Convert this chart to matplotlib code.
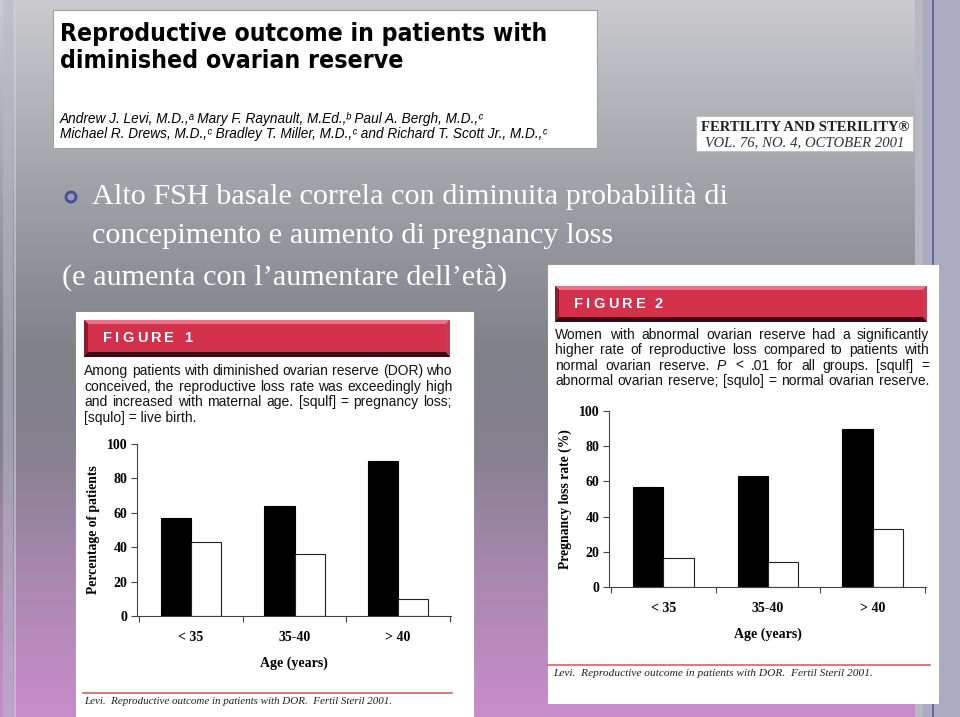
import matplotlib.pyplot as plt
import numpy as np
from matplotlib import font_manager
from matplotlib.colors import LinearSegmentedColormap
from matplotlib.patches import Rectangle, Polygon, Circle

W, H = 960, 717

# data
groups = ['< 35', '35-40', '> 40']
fig1_loss = [57, 64, 90]       # pregnancy loss (black)
fig1_live = [43, 36, 10]       # live birth (white)
fig2_abnormal = [57, 63, 90]   # abnormal ovarian reserve (black)
fig2_normal = [16.5, 14, 33]   # normal ovarian reserve (white)
yticks = [0, 20, 40, 60, 80, 100]

plt.rcParams['mathtext.fontset'] = 'custom'
plt.rcParams['mathtext.rm'] = 'Liberation Sans'
plt.rcParams['mathtext.it'] = 'Liberation Sans:italic'

SANS = ['Liberation Sans', 'DejaVu Sans']
SERIF = ['Liberation Serif', 'DejaVu Serif']

# condensed face for the article title, if one is installed
TITLE_FAM = SANS
for fam in ['Liberation Sans Narrow', 'DejaVu Sans']:
    fp = font_manager.FontProperties(family=fam, weight='bold', stretch='condensed')
    try:
        path = font_manager.findfont(fp, fallback_to_default=False)
    except ValueError:
        continue
    if 'Narrow' in path or 'Condensed' in path:
        TITLE_FAM = [fam]
        break

fig = plt.figure(figsize=(9.6, 7.17), dpi=100)
renderer = fig.canvas.get_renderer()
bg = fig.add_axes([0, 0, 1, 1])
bg.set_xlim(0, W)
bg.set_ylim(H, 0)
bg.axis('off')

# slide background gradient
cmap = LinearSegmentedColormap.from_list('slide', [
    (0.0, '#cacacf'), (0.3, '#9a9ca2'), (0.5, '#7f8088'),
    (0.62, '#85808e'), (0.8, '#a888ae'), (1.0, '#c98ccb')])
grad = np.linspace(0, 1, 256).reshape(-1, 1)
bg.imshow(grad, cmap=cmap, extent=(0, W, H, 0), aspect='auto', zorder=0)

# decorative stripes
bg.add_patch(Rectangle((3, 0), 10, H, fc='#b8b8cc', alpha=0.55, zorder=1))
bg.add_patch(Rectangle((14, 0), 2, H, fc='#d0d0e0', alpha=0.6, zorder=1))
bg.add_patch(Rectangle((915, 0), 45, H, fc='#aaaac0', zorder=1))
bg.add_patch(Rectangle((915, 0), 8, H, fc='#b8b8c4', zorder=1))
bg.plot([932.5, 932.5], [0, H], color='#5a5a98', lw=1.2, zorder=1)


def box(x0, y0, x1, y1, ec='#a0a0a0'):
    bg.add_patch(Rectangle((x0, y0), x1 - x0, y1 - y0, fc='white', ec=ec,
                           lw=0.8, zorder=2))


def txt(x, y, s, **kw):
    kw.setdefault('va', 'baseline')
    kw.setdefault('zorder', 3)
    return bg.text(x, y, s, **kw)


def width(t):
    return t.get_window_extent(renderer).width


def fit(x, y, s, target, **kw):
    # set font size so the line spans `target` pixels
    t = txt(x, y, s, **kw)
    t.set_fontsize(t.get_fontsize() * target / width(t))
    return t


def justify(x0, x1, y, line, **kw):
    words = line.split(' ')
    ts = [txt(x0, y, w_, **kw) for w_ in words]
    ws = [width(t) for t in ts]
    gap = (x1 - x0 - sum(ws)) / max(len(ts) - 1, 1)
    x = x0
    for t, w_ in zip(ts, ws):
        t.set_x(x)
        x += w_ + gap


def spaced(x, y, s, gap, **kw):
    for ch in s:
        if ch == ' ':
            x += gap * 2
            continue
        t = txt(x, y, ch, **kw)
        x += width(t) + gap


# article header
box(53, 10, 597, 148)
fit(60, 41, 'Reproductive outcome in patients with', 488, fontsize=21,
    weight='bold', family=TITLE_FAM, stretch='condensed')
fit(60, 68, 'diminished ovarian reserve', 343, fontsize=21,
    weight='bold', family=TITLE_FAM, stretch='condensed')
txt(60, 123, 'Andrew J. Levi, M.D.,\u1d43 Mary F. Raynault, M.Ed.,\u1d47 '
    'Paul A. Bergh, M.D.,\u1d9c', fontsize=9.8, style='italic', family=SANS)
txt(60, 138, 'Michael R. Drews, M.D.,\u1d9c Bradley T. Miller, M.D.,\u1d9c '
    'and Richard T. Scott Jr., M.D.,\u1d9c', fontsize=9.8, style='italic', family=SANS)

box(696, 116, 913, 151, ec='#c0c0c0')
txt(805, 131, 'FERTILITY AND STERILITY\u00ae', fontsize=10.5, weight='bold',
    family=SERIF, ha='center', color='#202020')
txt(805, 146, 'VOL. 76, NO. 4, OCTOBER 2001', fontsize=10.6, style='italic',
    family=SERIF, ha='center', color='#303040')

# bullet text
bg.add_patch(Circle((71, 197), 5, fc='#9a9ab8', ec='#4a4a96', lw=2, zorder=3))
txt(92, 204, 'Alto FSH basale correla con diminuita probabilità di',
    fontsize=21.8, family=SERIF, color='white')
txt(92, 243, 'concepimento e aumento di pregnancy loss',
    fontsize=21.8, family=SERIF, color='white')
txt(62, 285, '(e aumenta con l\u2019aumentare dell\u2019età)',
    fontsize=21.8, family=SERIF, color='white')


def banner(x0, y0, x1, y1, label):
    # bevelled red "FIGURE n" bar
    bg.add_patch(Rectangle((x0, y0), x1 - x0, y1 - y0, fc='#3c0c14', zorder=2))
    bg.add_patch(Polygon([(x0, y0), (x1, y0), (x1 - 4, y0 + 4), (x0 + 4, y0 + 4)],
                         fc='#e7738a', zorder=2))
    bg.add_patch(Polygon([(x0, y0), (x0 + 4, y0 + 4), (x0 + 4, y1 - 5), (x0, y1)],
                         fc='#8e1a2c', zorder=2))
    bg.add_patch(Polygon([(x1, y0), (x1 - 4, y0 + 4), (x1 - 4, y1 - 5), (x1, y1)],
                         fc='#c04058', zorder=2))
    bg.add_patch(Rectangle((x0 + 4, y0 + 4), x1 - x0 - 8, y1 - y0 - 9,
                           fc='#d3304c', zorder=2))
    spaced(x0 + 19, (y0 + y1) / 2 + 4, label, 3.2, fontsize=10.5, weight='bold',
           family=SANS, color='white')


def caption(x0, x1, y0, lines, step, last_free):
    for i, line in enumerate(lines):
        y = y0 + i * step
        if last_free and i == len(lines) - 1:
            txt(x0, y, line, fontsize=10, family=SANS, color='#111111')
        else:
            justify(x0, x1, y, line, fontsize=10, family=SANS, color='#111111')


def source(x0, x1, y, xt, size):
    bg.plot([x0, x1], [y - 11, y - 11], color='#d86060', lw=1.2, zorder=3)
    txt(xt, y, 'Levi.  Reproductive outcome in patients with DOR.  Fertil Steril 2001.',
        fontsize=size, style='italic', family=SERIF, color='#202020')


def chart(rect, black, white, ylabel):
    x0, ytop, x1, ybot = rect
    ax = fig.add_axes([x0 / W, 1 - ybot / H, (x1 - x0) / W, (ybot - ytop) / H])
    ax.set_facecolor('none')
    x = np.arange(len(groups))
    w = 0.29
    ax.bar(x - w / 2, black, w, color='black', edgecolor='black', lw=0.8)
    ax.bar(x + w / 2, white, w, color='white', edgecolor='#222222', lw=0.8)
    ax.set_xlim(-0.52, 2.51)
    ax.set_ylim(0, 100)
    ax.set_yticks(yticks)
    ax.set_yticklabels([str(t) for t in yticks], family=SERIF, weight='bold',
                       fontsize=10)
    ax.set_xticks(x)
    ax.set_xticklabels(groups, family=SERIF, weight='bold', fontsize=10)
    ax.set_xticks([-0.5, 0.5, 1.5, 2.5], minor=True)
    ax.tick_params(axis='x', which='major', length=0, pad=11)
    ax.tick_params(axis='x', which='minor', length=4, width=0.8, color='#444444',
                   direction='out')
    ax.tick_params(axis='y', length=4, width=0.8, color='#444444', pad=3)
    for s in ['top', 'right']:
        ax.spines[s].set_visible(False)
    for s in ['left', 'bottom']:
        ax.spines[s].set_color('#444444')
        ax.spines[s].set_linewidth(0.8)
    ax.set_xlabel('Age (years)', family=SERIF, weight='bold', fontsize=10,
                  labelpad=9)
    ax.set_ylabel(ylabel, family=SERIF, weight='bold', fontsize=9.8, labelpad=5)
    return ax


# Figure 1 panel
box(76, 312, 473, 717, ec='white')
banner(84, 320, 450, 357, 'FIGURE 1')
caption(84, 452, 375, [
    'Among patients with diminished ovarian reserve (DOR) who',
    'conceived, the reproductive loss rate was exceedingly high',
    'and increased with maternal age. [squlf] = pregnancy loss;',
    '[squlo] = live birth.'], 15.7, True)
chart((137, 444, 451, 616), fig1_loss, fig1_live, 'Percentage of patients')
source(83, 452, 704, 84, 7.9)

# Figure 2 panel
box(548, 265, 938, 703, ec='white')
banner(555, 286, 927, 322, 'FIGURE 2')
caption(555, 929, 339, [
    'Women with abnormal ovarian reserve had a significantly',
    'higher rate of reproductive loss compared to patients with',
    r'normal ovarian reserve. $\mathit{P}$ < .01 for all groups. [squlf] =',
    'abnormal ovarian reserve; [squlo] = normal ovarian reserve.'], 15.3, False)
chart((609, 411, 926, 587), fig2_abnormal, fig2_normal, 'Pregnancy loss rate (%)')
source(548, 930, 676, 553, 8.2)

fig.savefig('out.png', dpi=100)
